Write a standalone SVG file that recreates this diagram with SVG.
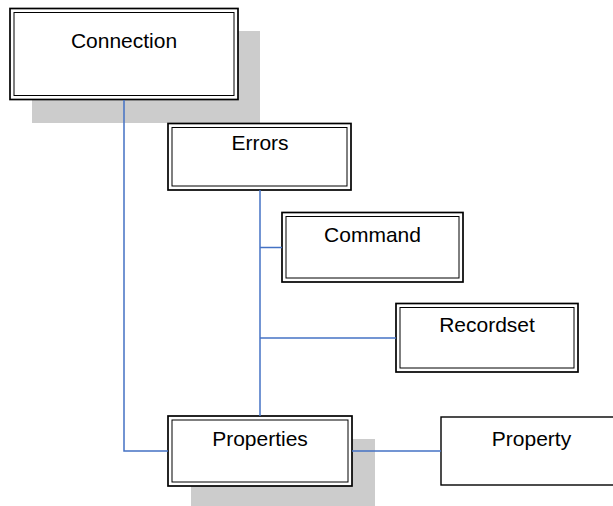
<svg xmlns="http://www.w3.org/2000/svg" width="613" height="506" viewBox="0 0 613 506">
<style>
.shadow{fill:#cccccc;stroke:none}
.outer{fill:#ffffff;stroke:#000000;stroke-width:1.7}
.inner{fill:none;stroke:#000000;stroke-width:1}
.single{fill:#ffffff;stroke:#000000;stroke-width:1.4}
.lbl{font-family:"Liberation Sans",Arial,sans-serif;font-size:21px;fill:#000000;text-anchor:middle}
.conn{fill:none;stroke:#4472C4;stroke-width:1.5}
</style>
<rect width="613" height="506" fill="#ffffff"/>
<g id="node-connection">
<rect class="shadow" x="32" y="31" width="228" height="92"/>
<rect class="outer" x="10" y="8.5" width="228" height="91"/>
<rect class="inner" x="14" y="12.5" width="220" height="83"/>
<text class="lbl" x="124" y="48">Connection</text>
</g>
<g id="node-errors">
<rect class="outer" x="168" y="123.5" width="183" height="66.5"/>
<rect class="inner" x="172" y="127.5" width="175" height="58.5"/>
<text class="lbl" x="260" y="150">Errors</text>
</g>
<g id="node-command">
<rect class="outer" x="282" y="212.5" width="181" height="69.5"/>
<rect class="inner" x="286" y="216.5" width="173" height="61.5"/>
<text class="lbl" x="372.5" y="242">Command</text>
</g>
<g id="node-recordset">
<rect class="outer" x="396" y="303.5" width="182" height="68.5"/>
<rect class="inner" x="400" y="307.5" width="174" height="60.5"/>
<text class="lbl" x="487" y="332">Recordset</text>
</g>
<g id="node-properties">
<rect class="shadow" x="191" y="439" width="184" height="70"/>
<rect class="outer" x="168" y="416" width="184" height="70"/>
<rect class="inner" x="172" y="420" width="176" height="62"/>
<text class="lbl" x="260" y="446">Properties</text>
</g>
<g id="node-property">
<rect class="single" x="441" y="417" width="181" height="68"/>
<text class="lbl" x="531.5" y="446">Property</text>
</g>
<g id="connectors">
<polyline class="conn" points="124,100 124,451 168,451"/>
<line class="conn" x1="352" y1="451" x2="441" y2="451"/>
<line class="conn" x1="260" y1="190" x2="260" y2="416"/>
<line class="conn" x1="260" y1="247.5" x2="282" y2="247.5"/>
<line class="conn" x1="260" y1="338" x2="396" y2="338"/>
</g>
</svg>
